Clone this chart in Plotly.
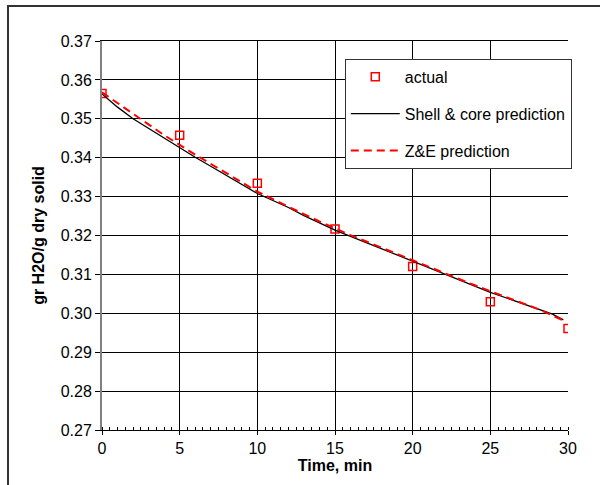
import plotly.graph_objects as go

# Data
t_actual = [0, 5, 10, 15, 20, 25, 30]
y_actual = [0.3565, 0.3458, 0.3334, 0.3217, 0.3120, 0.3030, 0.2961]

t_shell = [0, 1, 2, 3, 4, 5, 6, 7, 8, 9, 10, 11, 12, 13, 14, 15, 16, 17, 18,
           19, 20, 21, 22, 23, 24, 25, 26, 27, 28, 29, 29.7]
y_shell = [0.3564, 0.3530, 0.3500, 0.3475, 0.3450, 0.3425, 0.3401, 0.3378,
           0.3354, 0.3330, 0.3308, 0.3290, 0.3272, 0.3251, 0.3232, 0.3214,
           0.3198, 0.3182, 0.3166, 0.3150, 0.3134, 0.3117, 0.3102, 0.3087,
           0.3070, 0.3054, 0.3040, 0.3026, 0.3011, 0.2998, 0.2983]

t_ze = [0, 2, 4, 6, 8, 10, 12, 14, 16, 18, 20, 22, 24, 26, 28, 29.8]
y_ze = [0.3568, 0.3512, 0.3458, 0.3408, 0.3360, 0.3313, 0.3274, 0.3236,
        0.3201, 0.3168, 0.3136, 0.3104, 0.3072, 0.3042, 0.3012, 0.2980]

x_ticks = [0, 5, 10, 15, 20, 25, 30]
y_ticks = [0.27, 0.28, 0.29, 0.30, 0.31, 0.32, 0.33, 0.34, 0.35, 0.36, 0.37]

FONT = "Liberation Sans, Arial, sans-serif"

fig = go.Figure()
fig.add_trace(go.Scatter(
    x=t_actual, y=y_actual, mode="markers", name="actual", legendgroup="a",
    marker=dict(symbol="square-open", size=8, color="#FF0000",
                line=dict(width=1.5, color="#FF0000")),
))
fig.add_trace(go.Scatter(
    x=t_shell, y=y_shell, mode="lines", name="Shell & core prediction",
    legendgroup="b", line=dict(color="black", width=1.3),
))
fig.add_trace(go.Scatter(
    x=t_ze, y=y_ze, mode="lines", name="Z&E prediction", legendgroup="c",
    line=dict(color="#FF0000", width=2, dash="8px,5px"),
))

fig.update_layout(
    width=600, height=485,
    margin=dict(l=102, r=32, t=41, b=55),
    paper_bgcolor="white", plot_bgcolor="white",
    font=dict(family=FONT, color="black", size=16),
    showlegend=True,
    legend=dict(
        x=0.521, y=0.954, xanchor="left", yanchor="top",
        bgcolor="white", bordercolor="#333333", borderwidth=1,
        font=dict(family=FONT, size=16, color="black"),
        tracegroupgap=13, itemwidth=49,
    ),
    shapes=[dict(type="rect", xref="paper", yref="paper",
                 x0=-0.2017, x1=1.1, y0=-0.2, y1=1.0899,
                 line=dict(color="#333333", width=2), layer="below")],
)

fig.update_xaxes(
    range=[0, 30], tickvals=x_ticks, ticktext=[str(v) for v in x_ticks],
    showgrid=True, gridcolor="black", gridwidth=1,
    showline=True, linecolor="black", linewidth=1, mirror=True,
    ticks="outside", ticklen=4, tickcolor="black",
    minor=dict(dtick=0.5, ticks="inside", ticklen=3, tickcolor="black",
               showgrid=False),
    zeroline=False, automargin=False,
    tickfont=dict(family=FONT, size=16),
    title=dict(text="<b>Time, min</b>", font=dict(family=FONT, size=16),
               standoff=2),
)
fig.update_yaxes(
    range=[0.27, 0.37], tickvals=y_ticks,
    ticktext=[f"{v:.2f}" for v in y_ticks],
    showgrid=True, gridcolor="black", gridwidth=1,
    showline=True, linecolor="#808080", linewidth=2, mirror=False,
    ticks="outside", ticklen=5, tickcolor="black",
    zeroline=False, automargin=False,
    tickfont=dict(family=FONT, size=16),
    title=dict(text="<b>gr H2O/g dry solid</b>", font=dict(family=FONT, size=16),
               standoff=12),
)

fig.write_html("out.html", config={"displayModeBar": False},
               post_script="document.body.style.margin='0';")
